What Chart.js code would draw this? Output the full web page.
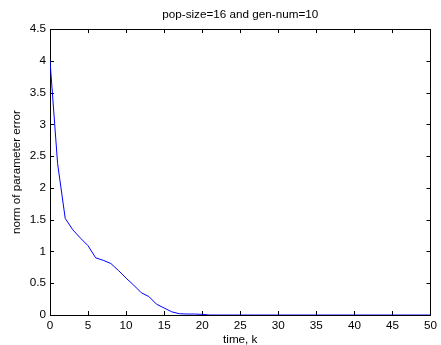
<!DOCTYPE html>
<html>
<head>
<meta charset="utf-8">
<script src="https://cdn.jsdelivr.net/npm/chart.js@4.4.0/dist/chart.umd.min.js"></script>
<style>
  html, body { margin: 0; padding: 0; background: #fff; }
  #wrap { width: 441px; height: 345px; }
</style>
</head>
<body>
<div id="wrap"><canvas id="myChart" width="441" height="345"></canvas></div>
<script>
// time steps k and the norm of the parameter error
const timeK = [0, 1, 2, 3, 4, 5, 6, 7, 8, 9, 10, 11, 12, 13, 14, 15, 16, 17, 18, 19, 20,
    21, 22, 23, 24, 25, 26, 27, 28, 29, 30, 31, 32, 33, 34, 35, 36, 37, 38, 39, 40,
    41, 42, 43, 44, 45, 46, 47, 48, 49, 50];
const errorNorm = [4.0, 2.38, 1.52, 1.34, 1.21, 1.09, 0.90, 0.86, 0.81, 0.70, 0.58, 0.47, 0.35, 0.29, 0.17, 0.11, 0.05, 0.02, 0.015, 0.015, 0.01,
    0, 0, 0, 0, 0, 0, 0, 0, 0, 0, 0, 0, 0, 0, 0, 0, 0, 0, 0, 0,
    0, 0, 0, 0, 0, 0, 0, 0, 0, 0];
const xTicks = [0, 5, 10, 15, 20, 25, 30, 35, 40, 45, 50];
const yTicks = [0, 0.5, 1, 1.5, 2, 2.5, 3, 3.5, 4, 4.5];

const chartTitle = 'pop-size=16 and gen-num=10';
const xTitle = 'time, k';
const yTitle = 'norm of parameter error';

const fontFamily = '"Liberation Sans", Arial, sans-serif';
const fontSize = 11.7;

// matlab style box with ticks pointing inwards
const boxPlugin = {
    id: 'matlabBox',
    beforeDatasetsDraw(chart) {
        const ctx = chart.ctx;
        const area = chart.chartArea;
        const xs = chart.scales.x;
        const ys = chart.scales.y;
        const len = 4;
        ctx.save();
        ctx.strokeStyle = '#000';
        ctx.lineWidth = 1;
        ctx.beginPath();
        ctx.rect(Math.round(area.left) + 0.5, Math.round(area.top) + 0.5,
            Math.round(area.right - area.left), Math.round(area.bottom - area.top));
        xTicks.forEach(v => {
            const px = Math.round(xs.getPixelForValue(v)) + 0.5;
            ctx.moveTo(px, area.bottom);
            ctx.lineTo(px, area.bottom - len);
            ctx.moveTo(px, area.top);
            ctx.lineTo(px, area.top + len);
        });
        yTicks.forEach(v => {
            const py = Math.round(ys.getPixelForValue(v)) + 0.5;
            ctx.moveTo(area.left, py);
            ctx.lineTo(area.left + len, py);
            ctx.moveTo(area.right, py);
            ctx.lineTo(area.right - len, py);
        });
        ctx.stroke();
        ctx.restore();
    }
};

const ctx = document.getElementById('myChart');
new Chart(ctx, {
    type: 'line',
    data: {
        datasets: [{
            data: timeK.map((k, i) => ({ x: k, y: errorNorm[i] })),
            borderColor: '#0000ff',
            borderWidth: 1,
            pointRadius: 0,
            fill: false,
            tension: 0
        }]
    },
    options: {
        responsive: false,
        animation: false,
        devicePixelRatio: 1,
        layout: { padding: { left: 0, right: 9, top: 0, bottom: 0 } },
        plugins: {
            legend: { display: false },
            tooltip: { enabled: false },
            title: {
                display: true,
                fullSize: false,
                text: chartTitle,
                color: '#000',
                font: { family: fontFamily, size: fontSize, weight: 'normal' },
                padding: { top: 8, bottom: 7 }
            }
        },
        scales: {
            x: {
                type: 'linear',
                min: 0,
                max: 50,
                afterFit(scale) { scale.height = 30; },
                afterBuildTicks(scale) { scale.ticks = xTicks.map(v => ({ value: v })); },
                ticks: {
                    color: '#000',
                    font: { family: fontFamily, size: fontSize },
                    padding: 4,
                    maxRotation: 0,
                    autoSkip: false
                },
                grid: { display: false, drawTicks: false },
                border: { display: false },
                title: {
                    display: true,
                    text: xTitle,
                    color: '#000',
                    font: { family: fontFamily, size: fontSize },
                    padding: { top: 0, bottom: -2 }
                }
            },
            y: {
                type: 'linear',
                min: 0,
                max: 4.5,
                afterFit(scale) { scale.width = 50; },
                afterBuildTicks(scale) { scale.ticks = yTicks.map(v => ({ value: v })); },
                ticks: {
                    color: '#000',
                    font: { family: fontFamily, size: fontSize },
                    padding: 4,
                    autoSkip: false,
                    callback: v => String(v)
                },
                grid: { display: false, drawTicks: false },
                border: { display: false },
                title: {
                    display: true,
                    text: yTitle,
                    color: '#000',
                    font: { family: fontFamily, size: fontSize },
                    padding: { top: 10, bottom: 0 }
                }
            }
        }
    },
    plugins: [boxPlugin]
});
</script>
</body>
</html>
